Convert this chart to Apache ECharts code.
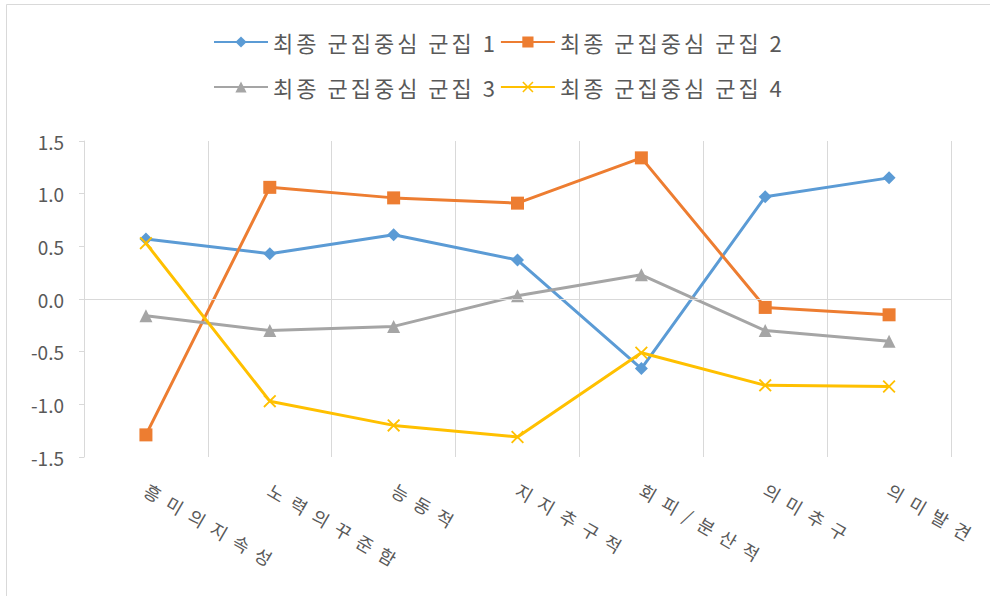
<!DOCTYPE html>
<html>
<head>
<meta charset="utf-8">
<script src="https://cdn.jsdelivr.net/npm/echarts@6/dist/echarts.min.js"></script>
<style>
  html, body { margin: 0; padding: 0; background: #fff; }
  #chart { width: 990px; height: 596px; }
</style>
</head>
<body>
<div id="chart"></div>
<script>
// categories (x axis)
const categories = ['흥미의지속성', '노력의꾸준함', '능동적', '지지추구적', '회피/분산적', '의미추구', '의미발견'];

// series names
const seriesNames = ['최종 군집중심 군집 1', '최종 군집중심 군집 2', '최종 군집중심 군집 3', '최종 군집중심 군집 4'];

// values
const cluster1 = [0.57, 0.43, 0.61, 0.37, -0.66, 0.97, 1.15];
const cluster2 = [-1.29, 1.06, 0.96, 0.91, 1.34, -0.08, -0.15];
const cluster3 = [-0.16, -0.30, -0.26, 0.03, 0.23, -0.30, -0.40];
const cluster4 = [0.53, -0.97, -1.20, -1.31, -0.51, -0.82, -0.83];

const yTicks = { min: -1.5, max: 1.5, interval: 0.5 };

const colors = ['#5B9BD5', '#ED7D31', '#A5A5A5', '#FFC000'];
const font = 'Noto Sans CJK KR';
const crossPath = 'path://M0,1L1,0L5,4L9,0L10,1L6,5L10,9L9,10L5,6L1,10L0,9L4,5Z';

// the original spreads its glyphs out, canvas text can't, so svg + letter-spacing
const legendSpacing = 3;
const labelSpacing = 9;

const chart = echarts.init(document.getElementById('chart'), null, { renderer: 'svg' });

function makeSeries(name, data, color, symbol, size, extra) {
    return Object.assign({
        name: name,
        type: 'line',
        data: data,
        symbol: symbol,
        symbolSize: size,
        lineStyle: { color: color, width: 3 },
        itemStyle: { color: color },
        emphasis: { disabled: true },
        animation: false
    }, extra || {});
}

const legendCommon = {
    itemWidth: 54,
    itemHeight: 14,
    // measured text width does not include the letter-spacing
    itemGap: 2 + 12 * legendSpacing,
    textStyle: { fontFamily: font, fontSize: 22, color: '#595959' }
};

const option = {
    color: colors,
    graphic: [{
        type: 'rect',
        shape: { x: 6.5, y: 4.5, width: 1000, height: 600 },
        style: { fill: 'none', stroke: '#d9d9d9', lineWidth: 1 },
        silent: true
    }],
    legend: [
        Object.assign({ data: [seriesNames[0], seriesNames[1]], left: 208, top: 26 }, legendCommon),
        Object.assign({ data: [seriesNames[2], seriesNames[3]], left: 208, top: 71 }, legendCommon)
    ],
    grid: { left: 84, right: 39, top: 141, bottom: 139 },
    xAxis: {
        type: 'category',
        data: categories,
        boundaryGap: true,
        axisLine: { show: false },
        axisTick: { show: false },
        splitLine: { show: true, lineStyle: { color: '#d9d9d9', width: 1 } },
        axisLabel: {
            interval: 0,
            rotate: -30,
            margin: 31,
            align: 'left',
            verticalAlign: 'middle',
            fontFamily: font,
            fontSize: 18,
            color: '#595959'
        }
    },
    yAxis: {
        type: 'value',
        min: yTicks.min,
        max: yTicks.max,
        interval: yTicks.interval,
        axisLine: { show: true, lineStyle: { color: '#d9d9d9' } },
        axisTick: { show: true, length: 5, lineStyle: { color: '#d9d9d9' } },
        splitLine: { show: false },
        axisLabel: {
            margin: 20,
            fontFamily: font,
            fontSize: 19,
            color: '#595959',
            formatter: v => v.toFixed(1)
        }
    },
    series: [
        makeSeries(seriesNames[0], cluster1, colors[0], 'diamond', 13, {
            markLine: {
                silent: true,
                symbol: 'none',
                label: { show: false },
                lineStyle: { color: '#d9d9d9', width: 1, type: 'solid' },
                data: [{ yAxis: 0 }],
                animation: false
            },
            z: 2
        }),
        makeSeries(seriesNames[1], cluster2, colors[1], 'rect', 13, { z: 3 }),
        makeSeries(seriesNames[2], cluster3, colors[2], 'triangle', 13, { z: 4 }),
        makeSeries(seriesNames[3], cluster4, colors[3], crossPath, 13, { z: 5 })
    ]
};

function spreadText() {
    const texts = document.querySelectorAll('#chart svg text');
    texts.forEach(t => {
        const s = t.textContent;
        if (categories.indexOf(s) >= 0) {
            t.setAttribute('letter-spacing', labelSpacing);
        } else if (seriesNames.indexOf(s) >= 0) {
            t.setAttribute('letter-spacing', legendSpacing);
        }
    });
}

chart.on('finished', spreadText);
chart.setOption(option);
spreadText();
</script>
</body>
</html>
